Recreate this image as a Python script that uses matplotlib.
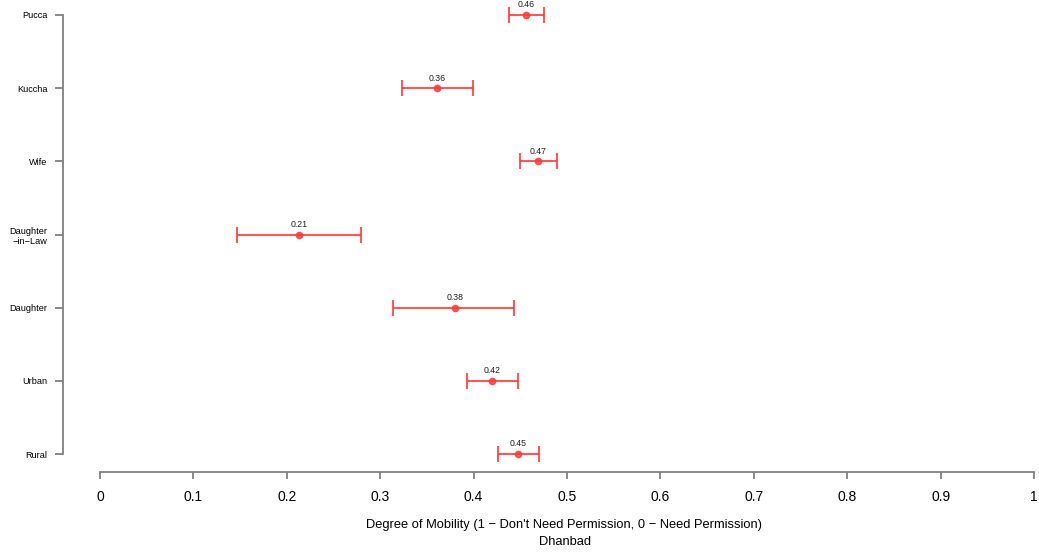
import matplotlib
matplotlib.use("Agg")
import matplotlib.pyplot as plt

categories = ["Rural", "Urban", "Daughter", "Daughter\n\u2212in\u2212Law", "Wife", "Kuccha", "Pucca"]
means = [0.448, 0.420, 0.380, 0.213, 0.469, 0.361, 0.456]
lower = [0.426, 0.393, 0.314, 0.147, 0.450, 0.323, 0.438]
upper = [0.470, 0.448, 0.443, 0.279, 0.489, 0.399, 0.475]
xticks = [0, 0.1, 0.2, 0.3, 0.4, 0.5, 0.6, 0.7, 0.8, 0.9, 1]
xticklabels = ["0", "0.1", "0.2", "0.3", "0.4", "0.5", "0.6", "0.7", "0.8", "0.9", "1"]

plt.rcParams['font.family'] = ['Liberation Sans', 'DejaVu Sans']

W, H = 1039, 555
fig = plt.figure(figsize=(W / 100, H / 100), dpi=100)
ax = fig.add_axes([100 / W, (H - 454) / H, 934 / W, 439 / H])

red = '#ff3b3b'
ypos = list(range(len(categories)))
for y, m, lo, hi in zip(ypos, means, lower, upper):
    ax.errorbar([m], [y], xerr=[[m - lo], [hi - m]], fmt='o', color=red,
                ms=4.5, elinewidth=1.5, capsize=6, capthick=1.5, alpha=0.85,
                clip_on=False)
    ax.annotate(f"{m:.2f}", (m, y), xytext=(0, 4), textcoords='offset points',
                ha='center', va='bottom', fontsize=6.3, color='#222222')

ax.set_xlim(0, 1)
ax.set_ylim(0, 6)
for s in ['top', 'right']:
    ax.spines[s].set_visible(False)
ax.spines['left'].set_position(('outward', 37 * 0.72))
ax.spines['bottom'].set_position(('outward', 18 * 0.72))
ax.spines['left'].set_bounds(0, 6)
ax.spines['bottom'].set_bounds(0, 1)
for s in ['left', 'bottom']:
    ax.spines[s].set_color('#808080')
    ax.spines[s].set_linewidth(1.3)

ax.set_yticks(ypos)
ax.set_yticklabels(categories, fontsize=6.6, ha='right', multialignment='right')
ax.set_xticks(xticks)
ax.set_xticklabels(xticklabels, fontsize=10)
ax.tick_params(axis='y', length=6, color='#808080', width=1.3, pad=5)
ax.tick_params(axis='x', length=5, color='#808080', width=1.3, pad=8)

fig.text(564 / W, 1 - 525 / H, "Degree of Mobility (1 \u2212 Don't Need Permission, 0 \u2212 Need Permission)",
         ha='center', va='center', fontsize=9.3)
fig.text(565 / W, 1 - 542 / H, "Dhanbad", ha='center', va='center', fontsize=9.3)

fig.savefig("out.png", dpi=100)
